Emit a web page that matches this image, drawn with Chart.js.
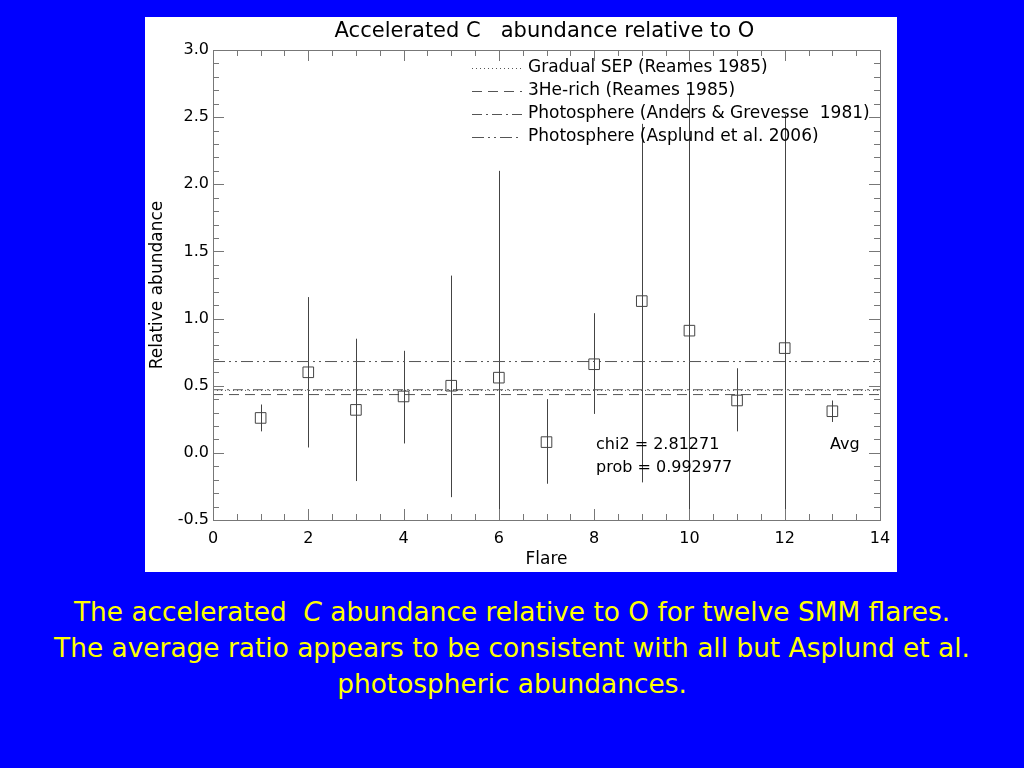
<!DOCTYPE html>
<html>
<head>
<meta charset="utf-8">
<script src="https://cdn.jsdelivr.net/npm/chart.js@4.4.1/dist/chart.umd.min.js"></script>
<style>
  html, body { margin: 0; padding: 0; background: #0000ff; width: 1024px; height: 768px; overflow: hidden; }
  #panel { position: absolute; left: 145px; top: 17px; width: 752px; height: 555px; background: #fff; }
  #caption { position: absolute; left: 0; top: 594px; width: 1024px; text-align: center;
    font-family: "DejaVu Sans", sans-serif; font-size: 26.4px; line-height: 36px; color: #ffff00; }
</style>
</head>
<body>
<div id="panel"><canvas id="grafico"></canvas></div>
<div id="caption">The accelerated&nbsp; <i>C</i> abundance relative to O for twelve SMM flares.<br>
The average ratio appears to be consistent with all but Asplund et al.<br>
photospheric abundances.</div>
<script>
// Datos (flare 13 = promedio)
const flares = [1, 2, 3, 4, 5, 6, 7, 8, 9, 10, 11, 12, 13];
const abundancia = [0.26, 0.60, 0.32, 0.42, 0.50, 0.56, 0.08, 0.66, 1.13, 0.91, 0.39, 0.78, 0.31];
const errorBajo = [0.16, 0.04, -0.21, 0.07, -0.33, -0.90, -0.23, 0.29, -0.22, -0.80, 0.16, -0.70, 0.23];
const errorAlto = [0.36, 1.16, 0.85, 0.76, 1.32, 2.10, 0.40, 1.04, 2.45, 2.67, 0.63, 2.52, 0.39];

// Lineas de referencia
const refNombres = [
  'Gradual SEP (Reames 1985)',
  '3He-rich (Reames 1985)',
  'Photosphere (Anders & Grevesse  1981)',
  'Photosphere (Asplund et al. 2006)'
];
const refValores = [0.465, 0.434, 0.47, 0.68];
const refDashes = [[1, 3], [10, 6], [10, 4, 2, 4], [12, 4, 2, 4, 2, 4]];

const FUENTE = '"DejaVu Sans", sans-serif';
const COLOR_DATOS = '#444';
const COLOR_EJES = '#777';

// Barras de error
const pluginErrores = {
  id: 'errores',
  beforeDatasetsDraw(chart) {
    const { ctx, chartArea, scales } = chart;
    ctx.save();
    ctx.beginPath();
    ctx.rect(chartArea.left, chartArea.top, chartArea.width, chartArea.height);
    ctx.clip();
    ctx.strokeStyle = COLOR_DATOS;
    ctx.lineWidth = 1;
    flares.forEach((f, i) => {
      const x = Math.round(scales.x.getPixelForValue(f)) + 0.5;
      ctx.beginPath();
      ctx.moveTo(x, scales.y.getPixelForValue(errorBajo[i]));
      ctx.lineTo(x, scales.y.getPixelForValue(errorAlto[i]));
      ctx.stroke();
    });
    ctx.restore();
  }
};

// Ticks hacia adentro en los cuatro lados, titulo, leyenda y textos
const pluginEjes = {
  id: 'ejes',
  afterDraw(chart) {
    const { ctx, chartArea: a, scales } = chart;
    ctx.save();
    ctx.strokeStyle = COLOR_EJES;
    ctx.lineWidth = 1;
    ctx.strokeRect(a.left + 0.5, a.top + 0.5, a.width, a.height);
    ctx.beginPath();
    for (let v = 0; v <= 14.001; v += 0.5) {
      const x = Math.round(scales.x.getPixelForValue(v)) + 0.5;
      const len = Math.abs(v % 2) < 0.001 ? 11 : 6;
      ctx.moveTo(x, a.bottom); ctx.lineTo(x, a.bottom - len);
      ctx.moveTo(x, a.top); ctx.lineTo(x, a.top + len);
    }
    for (let k = -5; k <= 30; k++) {
      const v = k / 10;
      const y = Math.round(scales.y.getPixelForValue(v)) + 0.5;
      const len = k % 5 === 0 ? 11 : 6;
      ctx.moveTo(a.left, y); ctx.lineTo(a.left + len, y);
      ctx.moveTo(a.right, y); ctx.lineTo(a.right - len, y);
    }
    ctx.stroke();

    ctx.fillStyle = '#000';
    ctx.textBaseline = 'middle';

    // Titulo centrado sobre el area del grafico
    ctx.font = '21px ' + FUENTE;
    ctx.textAlign = 'center';
    ctx.fillText('Accelerated C   abundance relative to O', (a.left + a.right) / 2 - 2, 14.5);

    // Leyenda
    ctx.font = '17px ' + FUENTE;
    ctx.textAlign = 'left';
    refNombres.forEach((n, i) => {
      const y = a.top + 17.5 + i * 23;
      ctx.strokeStyle = '#555';
      ctx.setLineDash(refDashes[i]);
      ctx.beginPath();
      ctx.moveTo(a.left + 259, Math.round(y) + 0.5);
      ctx.lineTo(a.left + 309, Math.round(y) + 0.5);
      ctx.stroke();
      ctx.setLineDash([]);
      ctx.fillText(n, a.left + 315, y);
    });

    // Textos
    ctx.font = '16px ' + FUENTE;
    ctx.fillText('chi2 = 2.81271', scales.x.getPixelForValue(8.04), scales.y.getPixelForValue(0.06));
    ctx.fillText('prob = 0.992977', scales.x.getPixelForValue(8.04), scales.y.getPixelForValue(-0.115));
    ctx.fillText('Avg', scales.x.getPixelForValue(12.95), scales.y.getPixelForValue(0.06));
    ctx.restore();
  }
};

const datasetsRef = refValores.map((v, i) => ({
  type: 'line',
  label: refNombres[i],
  data: [{ x: 0, y: v }, { x: 14, y: v }],
  borderColor: '#555',
  borderWidth: 1,
  borderDash: refDashes[i],
  pointRadius: 0
}));

const grafico = document.getElementById('grafico').getContext('2d');
window.graficaAbundancia = new Chart(grafico, {
  type: 'scatter',
  data: {
    datasets: [{
      label: 'C/O',
      data: flares.map((f, i) => ({ x: f, y: abundancia[i] })),
      pointStyle: 'rect',
      pointRadius: 7.5,
      borderColor: COLOR_DATOS,
      backgroundColor: 'rgba(255,255,255,0)',
      borderWidth: 1
    }, ...datasetsRef]
  },
  options: {
    responsive: true,
    maintainAspectRatio: false,
    animation: false,
    layout: { padding: { top: 33, right: 17, left: 0 } },
    scales: {
      x: {
        type: 'linear',
        min: 0, max: 14,
        afterFit: s => { s.height = 52; s.paddingLeft = 0; s.paddingRight = 0; },
        grid: { display: false, drawTicks: false },
        border: { display: false },
        ticks: { stepSize: 2, padding: 9, color: '#000', font: { family: FUENTE, size: 16 } },
        title: { display: true, text: 'Flare', color: '#000', padding: { top: 0, bottom: 2 },
          font: { family: FUENTE, size: 17 } }
      },
      y: {
        min: -0.5, max: 3.0,
        afterFit: s => { s.width = 68; },
        grid: { display: false, drawTicks: false },
        border: { display: false },
        ticks: { stepSize: 0.5, padding: 4, color: '#000', font: { family: FUENTE, size: 16 },
          callback: v => v.toFixed(1) },
        title: { display: true, text: 'Relative abundance', color: '#000', padding: { top: 2, bottom: 0 },
          font: { family: FUENTE, size: 17 } }
      }
    },
    plugins: {
      legend: { display: false },
      tooltip: { enabled: false },
      title: { display: false }
    }
  },
  plugins: [pluginErrores, pluginEjes]
});
</script>
</body>
</html>
